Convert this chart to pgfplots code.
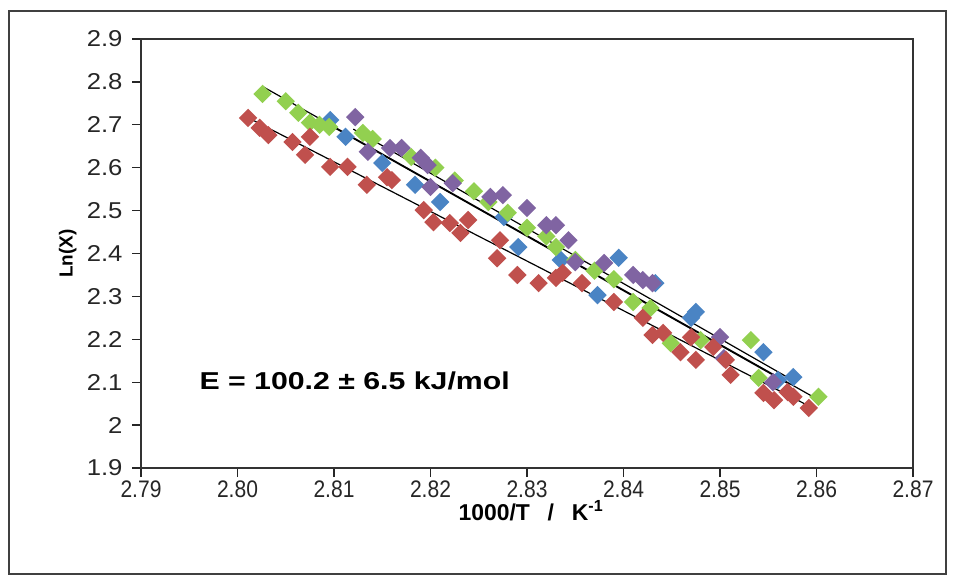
\documentclass[border=0pt]{standalone}
\usepackage{pgfplots}
\pgfplotsset{compat=1.18}
\usepackage{fontspec}
\setmainfont{Liberation Sans}
\newfontfamily\narrowfont[FakeStretch=0.88]{Liberation Sans}
\newfontfamily\ytickfont[FakeStretch=1.12]{Liberation Sans}
\newfontfamily\widefont[FakeStretch=1.24]{Liberation Sans}

\definecolor{serblue}{HTML}{4A84C4}
\definecolor{serred}{HTML}{C0504D}
\definecolor{sergreen}{HTML}{92D050}
\definecolor{serpurple}{HTML}{8064A2}

\begin{document}
\begin{tikzpicture}[x=1bp,y=1bp]
\useasboundingbox (0,0) rectangle (956,-582);
\draw[line width=1.6bp, black!75] (9,-11) rectangle (946,-574);
\begin{axis}[
  at={(141bp,-468bp)}, anchor=south west,
  width=772bp, height=429bp, scale only axis,
  xmin=2.79, xmax=2.87, ymin=1.9, ymax=2.9,
  xtick={2.79,2.80,2.81,2.82,2.83,2.84,2.85,2.86,2.87},
  ytick={1.9,2.0,2.1,2.2,2.3,2.4,2.5,2.6,2.7,2.8,2.9},
  tick align=outside, tick pos=left,
  major tick length=9bp,
  axis line style={line width=1.6bp, black!80},
  every tick/.style={line width=1.3bp, black!85},
  /pgf/number format/assume math mode=true,
  x tick label style={font=\fontsize{24}{26}\narrowfont, color=black!85,
    /pgf/number format/.cd, fixed, fixed zerofill, precision=2},
  y tick label style={font=\fontsize{23}{26}\ytickfont, color=black!85, xshift=-6bp,
    /pgf/number format/.cd, fixed, precision=1},
  xlabel={1000/T\enspace\ /\enspace\ K\textsuperscript{-1}},
  xlabel style={font=\fontsize{23}{26}\selectfont\bfseries, at={(axis description cs:0.505,-0.1)}, anchor=center},
  ylabel={Ln(X)},
  ylabel style={font=\fontsize{19}{22}\selectfont\bfseries, at={(axis description cs:-0.095,0.5)}, anchor=center},
  clip=false,
  every axis plot/.append style={only marks, mark=square*, mark size=6.5bp,
    mark options={rotate=45, draw opacity=0}},
]
% blue series
\addplot[color=serblue] coordinates {
(2.8096,2.711) (2.8112,2.672) (2.8150,2.611) (2.8184,2.560) (2.8210,2.520)
(2.8276,2.485) (2.8291,2.415) (2.8335,2.385) (2.8373,2.303) (2.8395,2.390)
(2.8433,2.331) (2.8470,2.250) (2.8475,2.264) (2.8545,2.170) (2.8560,2.105)
(2.8576,2.112)
};
% green series
\addplot[color=sergreen] coordinates {
(2.8026,2.772) (2.8050,2.755) (2.8063,2.728) (2.8075,2.705) (2.8085,2.700)
(2.8095,2.695) (2.8130,2.681) (2.8140,2.667) (2.8180,2.625) (2.8205,2.600)
(2.8225,2.570) (2.8245,2.545) (2.8260,2.520) (2.8280,2.495) (2.8300,2.460)
(2.8320,2.440) (2.8330,2.415) (2.8350,2.385) (2.8370,2.360) (2.8390,2.340)
(2.8410,2.287) (2.8428,2.273) (2.8449,2.191) (2.8480,2.198) (2.8532,2.198)
(2.8540,2.110) (2.8602,2.066)
};
% purple series
\addplot[color=serpurple] coordinates {
(2.8122,2.718) (2.8135,2.637) (2.8158,2.646) (2.8170,2.646) (2.8190,2.623)
(2.8197,2.606) (2.8200,2.555) (2.8223,2.564) (2.8262,2.532) (2.8275,2.536)
(2.8300,2.506) (2.8320,2.466) (2.8330,2.466) (2.8343,2.431) (2.8350,2.380)
(2.8380,2.378) (2.8410,2.350) (2.8420,2.338) (2.8430,2.331) (2.8500,2.205)
(2.8504,2.156) (2.8555,2.100)
};
% red series
\addplot[color=serred] coordinates {
(2.8011,2.716) (2.8023,2.693) (2.8032,2.676) (2.8057,2.660) (2.8070,2.630)
(2.8075,2.672) (2.8096,2.602) (2.8114,2.602) (2.8134,2.560) (2.8155,2.578)
(2.8160,2.571) (2.8193,2.501) (2.8203,2.473) (2.8220,2.471) (2.8231,2.448)
(2.8239,2.478) (2.8272,2.431) (2.8269,2.389) (2.8290,2.350) (2.8312,2.331)
(2.8330,2.343) (2.8337,2.355) (2.8357,2.331) (2.8390,2.287) (2.8420,2.250)
(2.8430,2.210) (2.8441,2.215) (2.8459,2.170) (2.8475,2.152) (2.8470,2.205)
(2.8493,2.182) (2.8506,2.152) (2.8511,2.117) (2.8545,2.075) (2.8556,2.058)
(2.8570,2.077) (2.8576,2.066) (2.8592,2.040)
};
% linear fits
\addplot[black, line width=1.2bp, no marks, sharp plot] coordinates {(2.8015,2.712) (2.8590,2.047)};
\addplot[black, line width=1.2bp, no marks, sharp plot] coordinates {(2.8027,2.788) (2.8598,2.064)};
\addplot[black, line width=1.2bp, no marks, sharp plot] coordinates {(2.8095,2.700) (2.8572,2.095)};
\addplot[black, line width=1.2bp, no marks, sharp plot] coordinates {(2.8120,2.690) (2.8575,2.105)};
\node[font=\fontsize{24.5}{26}\widefont\bfseries, anchor=west] at (axis cs:2.7957,2.103) {E = 100.2 ± 6.5 kJ/mol};
\end{axis}
\end{tikzpicture}
\end{document}
